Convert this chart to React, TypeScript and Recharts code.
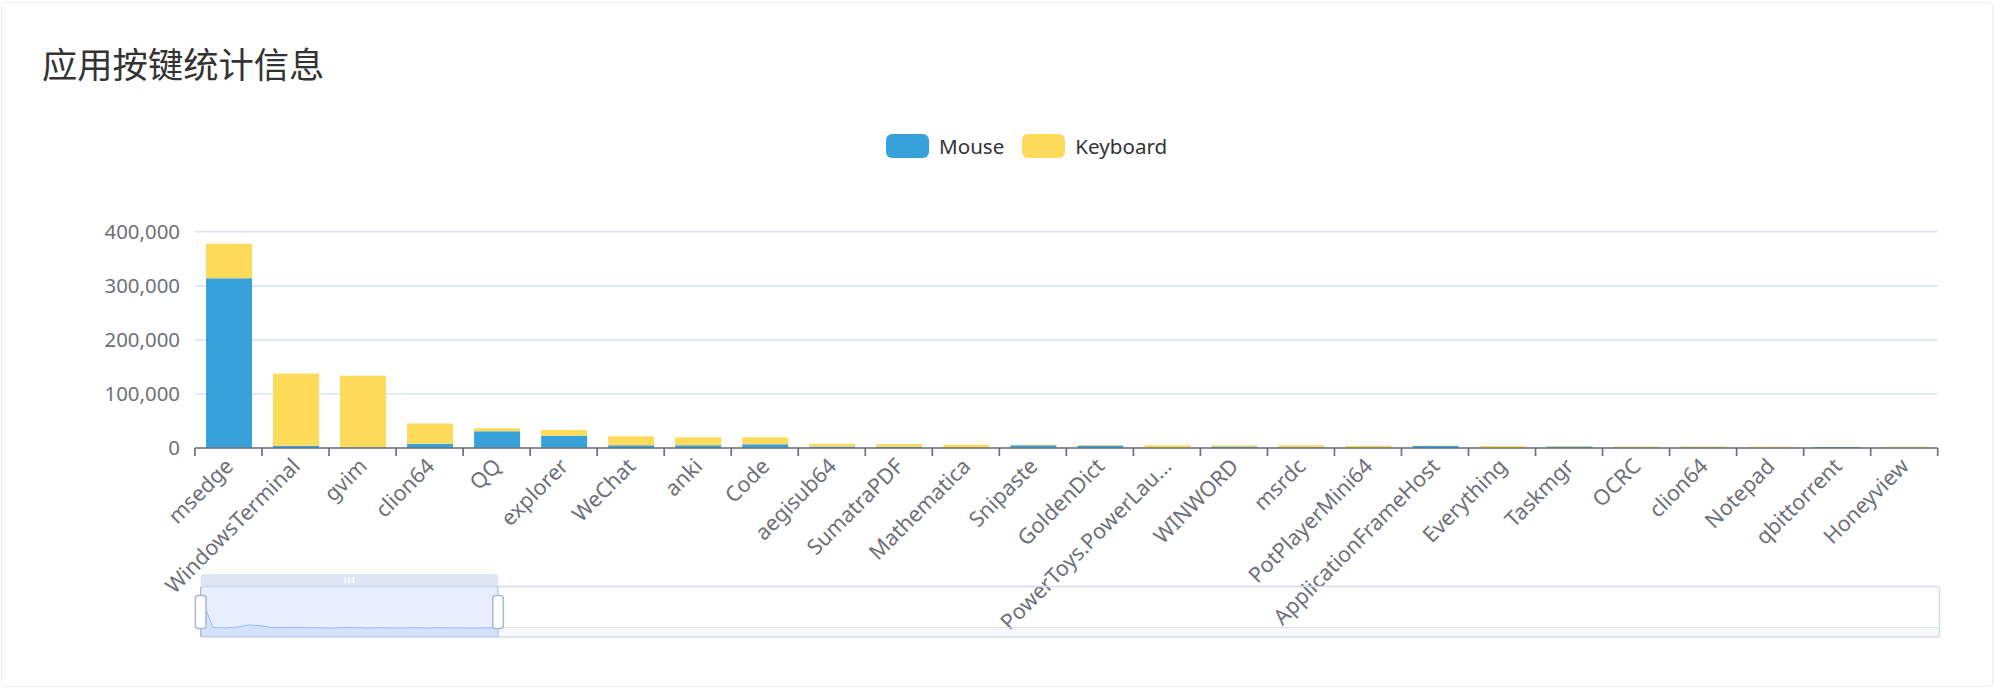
import React from 'react';
import { BarChart, Bar, XAxis, YAxis, CartesianGrid, AreaChart, Area } from 'recharts';

const categories = [
  'msedge', 'WindowsTerminal', 'gvim', 'clion64', 'QQ', 'explorer', 'WeChat', 'anki', 'Code',
  'aegisub64', 'SumatraPDF', 'Mathematica', 'Snipaste', 'GoldenDict', 'PowerToys.PowerLauncher',
  'WINWORD', 'msrdc', 'PotPlayerMini64', 'ApplicationFrameHost', 'Everything', 'Taskmgr', 'OCRC',
  'clion64', 'Notepad', 'qbittorrent', 'Honeyview',
];
const mouseValues = [
  314000, 4000, 1500, 8000, 30800, 22800, 4900, 4900, 6800, 3000, 2500, 500, 4900, 4600, 500,
  3000, 1500, 1000, 3500, 500, 3000, 1500, 1500, 500, 2000, 1000,
];
const keyboardValues = [
  63500, 134000, 132200, 37500, 5600, 10500, 16700, 14800, 12900, 5000, 4900, 5700, 1300, 900, 4400,
  1900, 3400, 3300, 500, 3000, 500, 1500, 1500, 2000, 500, 1500,
];
const yTicks = [0, 100000, 200000, 300000, 400000];
const seriesNames = ['Mouse', 'Keyboard'];
const seriesColors = ['#37A2DA', '#FFDB5C'];
const titleText = '应用按键统计信息';

const data = categories.map((name, i) => ({
  name,
  Mouse: mouseValues[i],
  Keyboard: keyboardValues[i],
}));
const shadowData = categories.map((name, i) => ({ name, v: mouseValues[i] }));
const shadowMax = Math.max(...mouseValues);

const W = 1995;
const H = 688;
const AXIS_COLOR = '#6E7079';
const FONT = "'Noto Sans', 'Noto Sans CJK SC', sans-serif";
const Y_W = 195;
const MARGIN = { top: 231.7, right: 57.3, bottom: 40, left: 0 };
const X_H = 200;
const TICK_LEN = 8;
const TICK_GAP = 5.6;
const BAND = (W - MARGIN.left - MARGIN.right - Y_W) / categories.length;

function XTick(props: any) {
  const { x, y, payload, index } = props;
  const half = BAND / 2;
  const axisY = y - TICK_GAP - TICK_LEN;
  const label = String(payload.value);
  const text = label.length > 20 ? label.slice(0, 18) + '...' : label;
  return (
    <g>
      <line x1={x - half} x2={x - half} y1={axisY} y2={axisY + TICK_LEN} stroke={AXIS_COLOR} strokeWidth={1.7} />
      {index === categories.length - 1 && (
        <line x1={x + half} x2={x + half} y1={axisY} y2={axisY + TICK_LEN} stroke={AXIS_COLOR} strokeWidth={1.7} />
      )}
      <text
        x={x}
        y={y}
        textAnchor="end"
        dominantBaseline="central"
        transform={`rotate(-45 ${x} ${y})`}
        fill={AXIS_COLOR}
        fontSize={21.5}
        fontFamily={FONT}
      >
        {text}
      </text>
    </g>
  );
}

// slider geometry
const SL = { x: 200.7, y: 586.5, w: 1939.5 - 200.7, h: 50.5, selEnd: 498 };

export default function App() {
  return (
    <div style={{ position: 'absolute', left: 0, top: 0, width: W, height: H, background: '#fff', fontFamily: FONT }}>
      <div
        style={{
          position: 'absolute', left: 1, top: 2, width: 1990, height: 683,
          border: '1px solid #EBEEF5', borderRadius: 4,
        }}
      />
      <div
        style={{
          position: 'absolute', left: 42, top: 44.5, fontSize: 35.3, lineHeight: '35px', color: '#333',
          fontFamily: "'Noto Sans CJK SC', sans-serif", whiteSpace: 'nowrap',
        }}
      >
        {titleText}
      </div>
      <div style={{ position: 'absolute', left: 886, top: 133.5, height: 24, display: 'flex', alignItems: 'center' }}>
        {seriesNames.map((n, i) => (
          <div key={n} style={{ display: 'flex', alignItems: 'center', marginRight: 18 }}>
            <div style={{ width: 43, height: 24, borderRadius: 6, background: seriesColors[i], marginRight: 10 }} />
            <span style={{ fontSize: 20.6, color: '#333', lineHeight: '24px' }}>{n}</span>
          </div>
        ))}
      </div>
      <div style={{ position: 'absolute', left: 0, top: 0 }}>
        <BarChart width={W} height={H} data={data} margin={MARGIN} barSize={46}>
          <CartesianGrid vertical={false} stroke="#E0E6F1" strokeWidth={1.7} />
          <XAxis
            dataKey="name"
            height={X_H}
            interval={0}
            tickLine={false}
            tickSize={TICK_LEN}
            tickMargin={TICK_GAP}
            axisLine={{ stroke: AXIS_COLOR, strokeWidth: 1.7 }}
            tick={<XTick />}
          />
          <YAxis
            width={Y_W}
            domain={[0, 400000]}
            ticks={yTicks}
            axisLine={false}
            tickLine={false}
            tickMargin={9}
            tick={{ fill: AXIS_COLOR, fontSize: 20.4, fontFamily: FONT }}
            tickFormatter={(v: number) => v.toLocaleString('en-US')}
          />
          <Bar dataKey="Mouse" stackId="a" fill={seriesColors[0]} isAnimationActive={false} />
          <Bar dataKey="Keyboard" stackId="a" fill={seriesColors[1]} isAnimationActive={false} />
        </BarChart>
      </div>
      {/* dataZoom slider background */}
      <svg width={W} height={H} style={{ position: 'absolute', left: 0, top: 0, pointerEvents: 'none' }}>
        <rect x={SL.selEnd} y={SL.y + SL.h * (1.3 / 1.6)} width={SL.x + SL.w - SL.selEnd} height={SL.h * (0.3 / 1.6)} fill="#d2dbee" fillOpacity={0.2} />
        <line x1={SL.selEnd} x2={SL.x + SL.w} y1={SL.y + SL.h * (1.3 / 1.6)} y2={SL.y + SL.h * (1.3 / 1.6)} stroke="#d2dbee" strokeWidth={0.85} />
        <rect x={SL.x} y={SL.y} width={SL.w} height={SL.h} rx={3} fill="none" stroke="#d2dbee" strokeWidth={1.5} />
        <rect x={SL.x} y={SL.y} width={SL.selEnd - SL.x} height={SL.h} fill="rgba(135,175,255,0.2)" />
        <path
          d={`M${SL.x},${SL.y} L${SL.x},${SL.y - 9} Q${SL.x},${SL.y - 12.5} ${SL.x + 3},${SL.y - 12.5} L${SL.selEnd - 3},${SL.y - 12.5} Q${SL.selEnd},${SL.y - 12.5} ${SL.selEnd},${SL.y - 9} L${SL.selEnd},${SL.y} Z`}
          fill="#D2DBEE"
          fillOpacity={0.7}
        />
        {[-4, 0, 4].map((d) => (
          <rect key={d} x={(SL.x + SL.selEnd) / 2 + d - 0.9} y={SL.y - 9} width={1.8} height={5.5} fill="#fff" />
        ))}
        <line x1={SL.x} x2={SL.x} y1={SL.y} y2={SL.y + SL.h} stroke="#ACB8D1" strokeWidth={1} />
        <line x1={SL.selEnd} x2={SL.selEnd} y1={SL.y} y2={SL.y + SL.h} stroke="#ACB8D1" strokeWidth={1} />
      </svg>
      <div style={{ position: 'absolute', left: SL.x, top: SL.y }}>
        <AreaChart width={SL.selEnd - SL.x} height={SL.h} data={shadowData} margin={{ top: 0, right: 0, bottom: 0, left: 0 }}>
          <XAxis dataKey="name" hide />
          <YAxis hide domain={[-0.3 * shadowMax, 1.3 * shadowMax]} />
          <Area
            type="linear"
            dataKey="v"
            stroke="#8fb0f7"
            strokeWidth={0.85}
            fill="#8fb0f7"
            fillOpacity={0.2}
            baseValue="dataMin"
            isAnimationActive={false}
            dot={false}
            activeDot={false}
          />
        </AreaChart>
      </div>
      <svg width={W} height={H} style={{ position: 'absolute', left: 0, top: 0, pointerEvents: 'none' }}>
        {[SL.x, SL.selEnd].map((hx) => (
          <rect key={hx} x={hx - 5.3} y={595.5} width={10.6} height={33} rx={3} fill="#fff" stroke="#ACB8D1" strokeWidth={1.5} />
        ))}
      </svg>
    </div>
  );
}
